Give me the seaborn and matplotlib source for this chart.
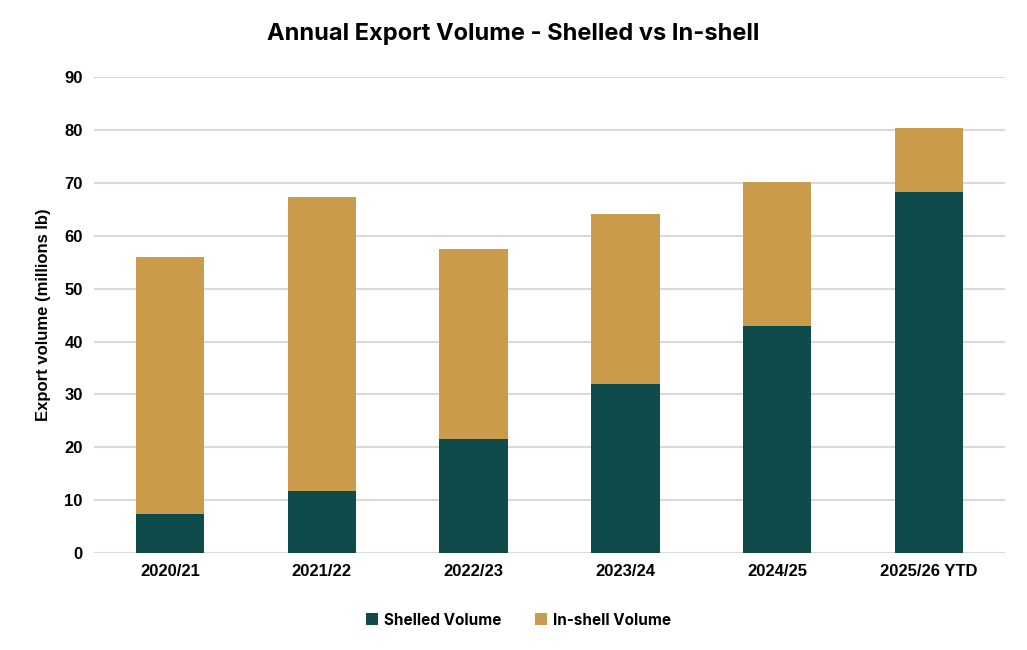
import pandas as pd
import matplotlib.pyplot as plt
import seaborn as sns

# values (millions lb)
seasons = ["2020/21", "2021/22", "2022/23", "2023/24", "2024/25", "2025/26 YTD"]
shelled = [7.4, 11.8, 21.6, 32.0, 43.0, 68.2]
inshell = [48.6, 55.6, 35.9, 32.1, 27.1, 12.1]

df = pd.DataFrame({"season": seasons, "shelled": shelled, "inshell": inshell})
df["total"] = df["shelled"] + df["inshell"]

teal = "#0F4B4A"
gold = "#C99B4B"

sns.set_theme(style="white")
plt.rcParams["font.family"] = ["Liberation Sans", "DejaVu Sans"]
plt.rcParams["text.color"] = "black"
plt.rcParams["axes.labelcolor"] = "black"
plt.rcParams["xtick.color"] = "black"
plt.rcParams["ytick.color"] = "black"

fig = plt.figure(figsize=(10.27, 6.5), dpi=100)
ax = fig.add_axes([0.0915, 0.149, 0.887, 0.7325])

# stacked: draw the totals first, then the shelled part over them
sns.barplot(data=df, x="season", y="total", color=gold, width=0.45,
            saturation=1, linewidth=0, ax=ax, label="In-shell Volume", zorder=2)
sns.barplot(data=df, x="season", y="shelled", color=teal, width=0.45,
            saturation=1, linewidth=0, ax=ax, label="Shelled Volume", zorder=3)

ax.set_ylim(0, 90)
ax.set_yticks(range(0, 91, 10))
ax.yaxis.grid(True, color="#D9D9D9", linewidth=1.5, zorder=0)
ax.set_axisbelow(True)
sns.despine(ax=ax, left=True, bottom=True, top=True, right=True)
ax.tick_params(axis="both", length=0, labelsize=12, pad=8)
for lab in ax.get_xticklabels() + ax.get_yticklabels():
    lab.set_fontweight("bold")
ax.set_xlabel("")
ax.set_ylabel("Export volume (millions lb)", fontsize=12, fontweight="bold", labelpad=10)

fig.suptitle("Annual Export Volume - Shelled vs In-shell", x=0.5, y=0.965,
             fontsize=17, fontweight="bold", family=["Inter", "DejaVu Sans"])

handles, labels = ax.get_legend_handles_labels()
if ax.get_legend() is not None:
    ax.get_legend().remove()
order = [labels.index("Shelled Volume"), labels.index("In-shell Volume")]
fig.legend([handles[i] for i in order], [labels[i] for i in order],
           loc="center", bbox_to_anchor=(0.505, 0.046), ncol=2, frameon=False,
           handlelength=0.8, handleheight=0.8, columnspacing=2.2, handletextpad=0.4,
           prop={"family": ["Inter", "DejaVu Sans"], "weight": "bold", "size": 11})

fig.savefig("out.png", dpi=100, facecolor="white")
